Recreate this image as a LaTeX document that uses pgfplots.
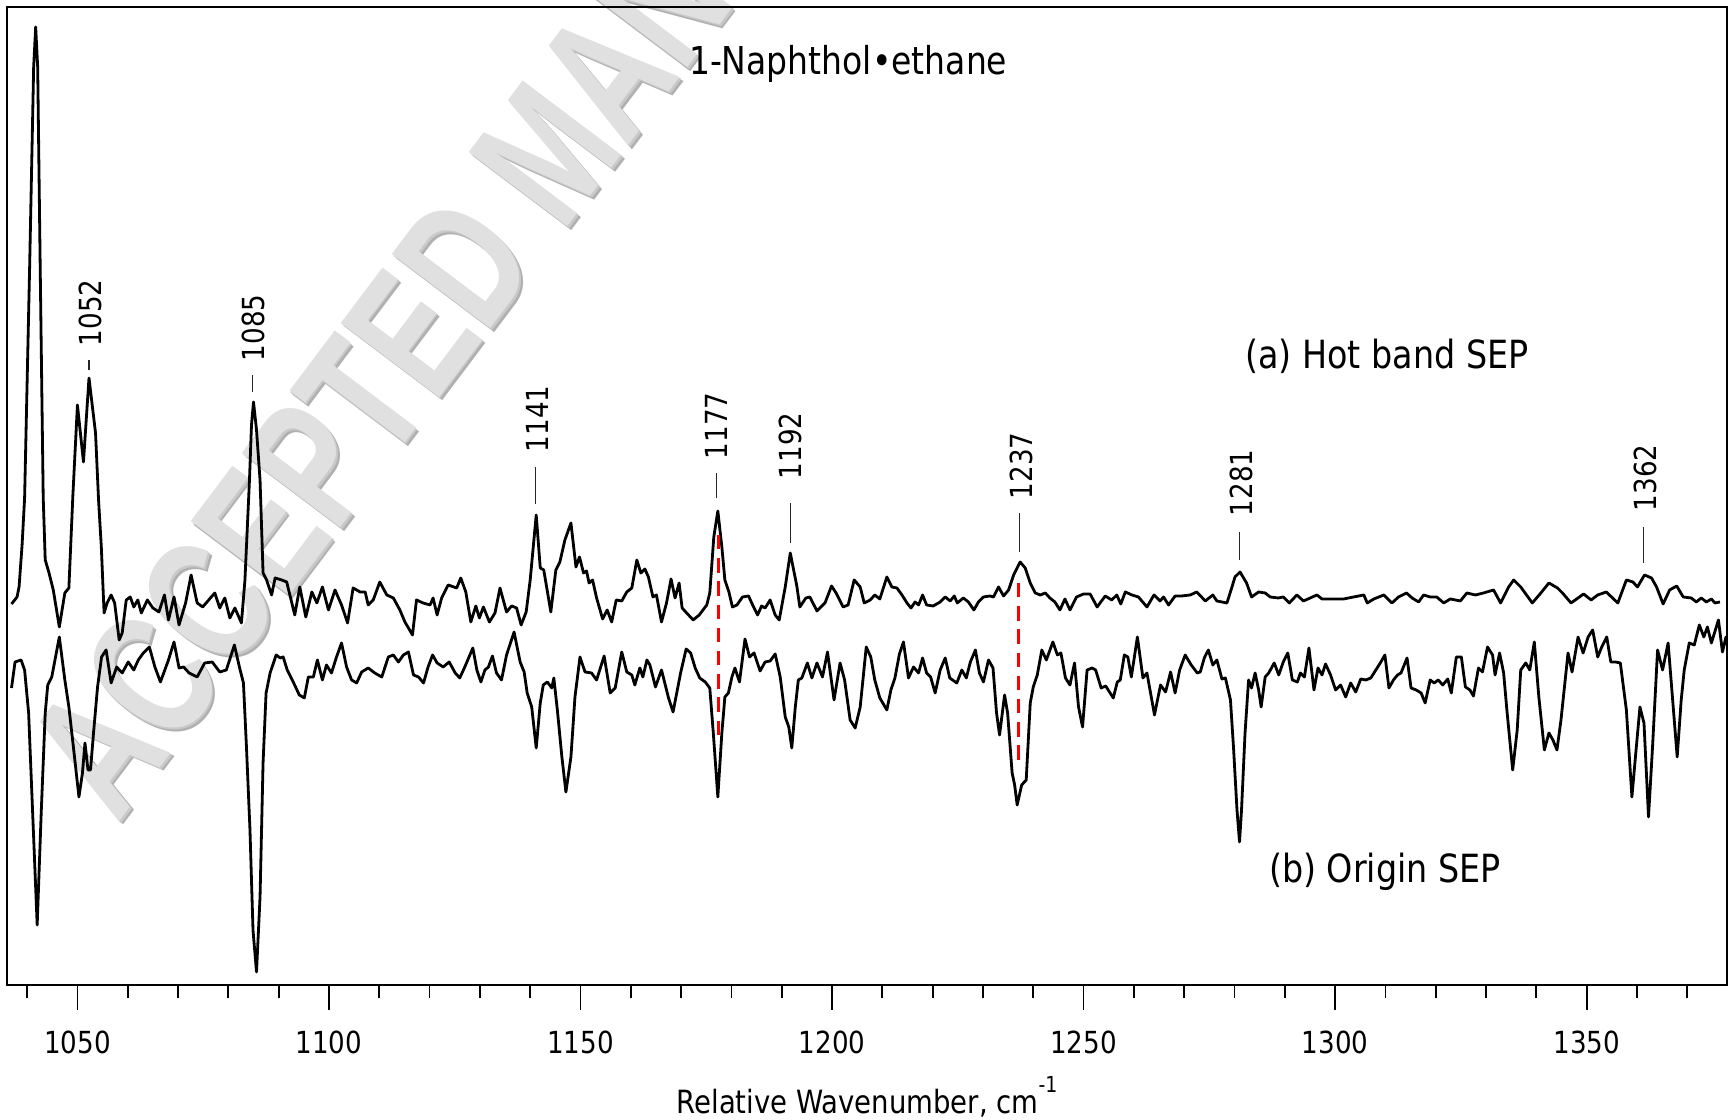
\documentclass[border=0pt]{standalone}
\usepackage{fontspec}
\setmainfont{DejaVu Sans}[FakeStretch=0.86]
\newfontfamily\wmfont{Liberation Sans}
\usepackage{pgfplots}
\pgfplotsset{compat=1.18}

\begin{document}
\begin{tikzpicture}
\useasboundingbox (-1.75pt,-33.75pt) rectangle (430.5pt,246.25pt);
% watermark (behind the plot)
\begin{scope}[shift={(27.5pt,40pt)}]
\node[rotate=53, yscale=1.4, anchor=base west, inner sep=0pt, text=gray!62, font=\wmfont\bfseries\fontsize{32}{36}\selectfont] at (0.9pt,-0.9pt) {ACCEPTED MANUSCRIPT};
\node[rotate=53, yscale=1.4, anchor=base west, inner sep=0pt, text=gray!42, font=\wmfont\bfseries\fontsize{32}{36}\selectfont] at (0.45pt,-0.45pt) {ACCEPTED MANUSCRIPT};
\node[rotate=53, yscale=1.4, anchor=base west, inner sep=0pt, text=gray!24, font=\wmfont\bfseries\fontsize{32}{36}\selectfont] at (0,0) {ACCEPTED MANUSCRIPT};
\end{scope}
\begin{axis}[
  at={(0,0)}, anchor=south west,
  scale only axis, width=430pt, height=244.5pt,
  xmin=1036, xmax=1377.9, ymin=0, ymax=978,
  axis line style={line width=0.6pt},
  ytick=\empty,
  xtick={1050,1100,1150,1200,1250,1300,1350},
  xticklabels={1050,1100,1150,1200,1250,1300,1350},
  minor xtick={1040,1060,1070,1080,1090,1110,1120,1130,1140,1160,1170,1180,1190,1210,1220,1230,1240,1260,1270,1280,1290,1310,1320,1330,1340,1360,1370},
  xtick pos=bottom, tick align=outside,
  major tick length=6.25pt, minor tick length=3.3pt,
  every tick/.style={black, line width=0.45pt},
  xticklabel style={font=\fontsize{7.6}{9}\selectfont, anchor=center, yshift=-8pt},
  xlabel={Relative Wavenumber, cm\raisebox{1.2ex}{\fontsize{5.5}{6}\selectfont -1}},
  xlabel style={font=\fontsize{8}{10}\selectfont, at={(axis description cs:0.5,0)}, anchor=center, yshift=-28pt},
]
% (a) Hot band SEP
\addplot[black, line width=0.7pt, line join=round] coordinates {
(1036.9,381) (1038.0,388) (1038.4,398) (1039.0,440) (1039.5,487) (1040.5,718) (1041.3,918) (1041.7,958) (1042.1,918) (1042.6,718) (1043.2,487) (1043.6,425) (1044.3,413) (1045.2,395) (1046.4,358) (1047.5,392) (1048.3,397) (1049.1,490) (1050.0,580) (1051.2,523) (1052.3,607) (1053.6,552) (1054.2,485) (1054.75,438) (1055.3,372) (1055.9,382) (1056.7,390) (1057.4,382) (1058.3,345) (1058.9,352) (1059.7,385) (1060.5,388) (1061.2,378) (1062.0,385) (1062.7,372) (1063.9,385) (1065.0,377) (1066.2,373) (1067.3,390) (1068.1,365) (1069.2,388) (1070.2,360) (1071.5,382) (1072.6,410) (1073.8,382) (1074.9,378) (1076.1,385) (1077.3,392) (1078.3,377) (1079.3,387) (1080.3,367) (1081.3,377) (1082.6,362) (1083.3,405) (1084.2,505) (1084.6,560) (1085.0,583) (1085.6,555) (1086.3,505) (1086.9,412) (1087.6,405) (1088.6,390) (1089.3,407) (1090.6,405) (1091.6,403) (1093.2,370) (1094.2,398) (1095.4,368) (1096.6,393) (1097.6,382) (1098.7,398) (1099.9,375) (1101.2,395) (1102.5,380) (1103.7,362) (1104.8,397) (1106.2,393) (1107.2,393) (1107.8,380) (1108.8,385) (1110.1,403) (1111.5,390) (1112.8,387) (1114.1,375) (1115.1,363) (1115.8,357) (1116.6,350) (1117.4,385) (1118.7,382) (1120.1,380) (1120.7,387) (1121.5,370) (1122.4,387) (1123.7,400) (1125.4,397) (1126.2,407) (1127.2,393) (1128.2,363) (1129.2,379) (1129.9,367) (1130.7,378) (1131.9,363) (1133.0,372) (1134.0,397) (1135.3,373) (1136.3,379) (1137.3,377) (1138.2,360) (1139.2,373) (1140.0,405) (1141.2,470) (1142.0,417) (1142.7,415) (1144.1,373) (1145.1,415) (1145.9,423) (1146.9,445) (1148.1,462) (1149.1,418) (1149.8,428) (1150.6,412) (1151.2,414) (1151.7,402) (1152.4,405) (1153.2,387) (1154.4,366) (1155.3,375) (1156.2,363) (1157.1,385) (1158.2,384) (1159.2,393) (1160.2,397) (1161.2,425) (1162.0,412) (1162.8,416) (1163.5,408) (1164.4,388) (1165.1,390) (1166.1,363) (1167.1,382) (1168.0,406) (1168.8,387) (1169.6,402) (1170.2,377) (1171.1,372) (1172.4,365) (1173.6,370) (1175.1,380) (1175.7,392) (1176.5,448) (1177.3,474) (1178.1,438) (1178.7,405) (1179.5,393) (1180.2,378) (1181.1,380) (1182.2,388) (1183.4,389) (1184.4,378) (1185.2,370) (1186.0,379) (1186.7,377) (1187.7,385) (1188.7,370) (1189.5,365) (1190.7,398) (1191.7,432) (1193.0,399) (1193.6,378) (1194.8,387) (1195.6,388) (1197.0,374) (1198.6,382) (1199.9,399) (1200.8,392) (1202.2,378) (1203.2,380) (1204.4,405) (1205.6,398) (1206.4,382) (1207.6,385) (1208.5,390) (1209.5,386) (1210.9,408) (1211.9,398) (1212.9,397) (1213.9,390) (1214.9,382) (1215.7,377) (1216.5,383) (1217.2,380) (1218.0,390) (1218.8,380) (1220.1,379) (1221.5,383) (1222.5,388) (1223.5,384) (1224.3,389) (1224.9,382) (1226.1,387) (1227.1,383) (1228.2,375) (1229.1,383) (1230.1,388) (1231.4,389) (1232.1,388) (1233.1,398) (1234.1,389) (1235.1,395) (1236.1,410) (1237.4,423) (1238.4,417) (1239.4,402) (1240.4,392) (1241.4,390) (1242.4,392) (1243.3,387) (1244.3,383) (1245.3,375) (1246.3,386) (1247.3,375) (1248.6,388) (1250.0,391) (1251.3,391) (1252.7,378) (1254.3,389) (1255.6,385) (1256.6,390) (1257.4,381) (1258.3,393) (1259.6,390) (1260.9,388) (1262.6,378) (1264.0,390) (1265.2,384) (1265.9,388) (1266.9,380) (1268.2,389) (1269.5,389) (1271.2,390) (1272.5,393) (1274.2,384) (1275.7,390) (1276.5,384) (1278.5,382) (1279.5,398) (1280.1,408) (1281.1,413) (1282.4,402) (1283.4,388) (1284.8,393) (1286.1,392) (1287.1,388) (1288.7,387) (1289.7,388) (1290.9,382) (1292.4,390) (1293.7,384) (1296.4,390) (1297.4,386) (1299.7,386) (1301.7,386) (1303.7,388) (1305.7,390) (1306.4,382) (1307.7,386) (1309.7,390) (1311.3,382) (1312.6,388) (1314.2,392) (1315.3,387) (1316.6,383) (1317.6,390) (1318.9,388) (1320.2,388) (1321.6,382) (1322.9,386) (1324.9,384) (1326.2,392) (1327.9,390) (1329.5,392) (1331.5,395) (1332.9,382) (1334.5,398) (1335.5,405) (1336.9,398) (1339.2,382) (1340.9,392) (1342.5,402) (1344.2,397) (1345.2,392) (1346.9,382) (1349.4,391) (1350.9,385) (1352.2,390) (1353.9,393) (1356.2,382) (1357.9,405) (1359.2,403) (1360.1,398) (1361.5,410) (1362.9,407) (1363.9,398) (1365.2,381) (1366.5,395) (1367.9,399) (1369.2,388) (1370.8,387) (1371.8,383) (1372.8,387) (1373.8,383) (1374.8,386) (1375.5,382) (1376.5,383)
};
% (b) Origin SEP
\addplot[black, line width=0.7pt, line join=round] coordinates {
(1036.9,297) (1037.6,323) (1038.8,325) (1039.5,315) (1040.3,272) (1041.1,172) (1042.0,60) (1042.8,172) (1043.6,272) (1044.1,300) (1044.9,308) (1046.4,348) (1047.5,305) (1048.3,278) (1049.2,238) (1050.3,188) (1051.0,212) (1051.5,242) (1052.1,215) (1052.6,215) (1053.2,252) (1054.0,298) (1054.8,328) (1055.7,335) (1056.7,302) (1057.8,318) (1058.9,312) (1060.1,323) (1061.2,315) (1062.1,325) (1063.1,332) (1064.3,338) (1065.4,318) (1066.5,303) (1068.1,325) (1069.2,343) (1070.2,317) (1071.1,318) (1072.2,312) (1073.8,308) (1075.3,322) (1076.8,323) (1078.3,313) (1079.6,315) (1081.2,340) (1082.2,318) (1083.0,302) (1083.6,238) (1084.3,155) (1084.9,55) (1085.6,13) (1086.3,88) (1086.9,222) (1087.5,292) (1088.3,312) (1089.5,330) (1090.3,327) (1090.9,328) (1091.7,315) (1092.9,303) (1094.1,290) (1095.1,287) (1095.9,308) (1096.9,308) (1097.7,325) (1098.7,305) (1099.5,320) (1100.5,312) (1101.5,328) (1102.5,342) (1103.5,318) (1104.5,305) (1105.5,302) (1106.5,313) (1107.8,317) (1109.1,312) (1110.5,308) (1111.8,328) (1112.8,330) (1113.8,323) (1114.8,330) (1115.8,333) (1116.8,310) (1117.8,308) (1118.8,302) (1119.7,318) (1120.6,330) (1121.5,322) (1122.7,318) (1123.9,323) (1125.1,312) (1126.0,307) (1127.0,318) (1128.6,337) (1129.4,315) (1130.2,303) (1131.0,315) (1131.7,318) (1132.5,329) (1133.3,312) (1134.3,305) (1135.3,330) (1136.8,353) (1138.0,323) (1138.8,313) (1139.4,292) (1140.3,278) (1141.2,237) (1142.0,282) (1142.6,300) (1143.4,303) (1144.3,297) (1144.7,307) (1145.4,275) (1146.3,228) (1147.1,193) (1148.1,228) (1148.9,288) (1149.9,328) (1150.9,313) (1152.2,312) (1153.2,305) (1154.7,329) (1155.9,292) (1156.9,297) (1158.2,333) (1159.2,313) (1160.2,310) (1160.8,300) (1161.8,317) (1162.4,308) (1163.2,325) (1163.8,320) (1164.9,298) (1166.1,315) (1167.5,287) (1168.4,273) (1169.9,312) (1171.0,336) (1171.9,332) (1172.8,317) (1173.7,307) (1174.8,303) (1175.7,297) (1176.4,252) (1177.3,188) (1178.1,252) (1178.7,288) (1179.4,292) (1180.1,308) (1180.7,317) (1181.6,303) (1182.7,346) (1183.6,328) (1184.5,332) (1185.7,314) (1186.7,323) (1187.7,324) (1188.7,331) (1189.7,308) (1190.7,268) (1191.4,258) (1192.0,237) (1192.7,278) (1193.3,305) (1194.0,307) (1195.1,322) (1196.0,307) (1197.0,322) (1198.1,308) (1199.1,333) (1200.4,285) (1201.6,322) (1202.5,305) (1203.6,265) (1204.6,257) (1205.6,278) (1206.8,338) (1207.7,328) (1208.5,305) (1209.5,287) (1210.9,275) (1211.7,295) (1212.5,307) (1213.4,331) (1214.2,343) (1215.2,307) (1216.2,318) (1217.2,312) (1218.0,327) (1218.8,312) (1219.6,308) (1220.5,292) (1221.5,315) (1222.5,327) (1223.4,307) (1224.8,302) (1225.8,315) (1226.7,307) (1227.5,323) (1228.5,335) (1229.3,312) (1230.1,303) (1231.1,325) (1232.0,317) (1232.7,272) (1233.3,250) (1234.3,290) (1234.9,272) (1235.8,212) (1236.3,200) (1236.8,180) (1237.7,200) (1238.6,205) (1239.4,282) (1240.0,298) (1240.8,310) (1241.7,335) (1242.6,325) (1243.9,343) (1244.8,330) (1245.5,332) (1246.4,307) (1247.3,300) (1248.2,322) (1249.0,278) (1249.8,258) (1250.7,315) (1251.7,317) (1252.4,315) (1253.5,297) (1254.4,299) (1255.9,287) (1256.7,303) (1257.3,305) (1258.1,330) (1258.8,328) (1259.5,308) (1260.7,348) (1261.8,307) (1262.6,312) (1264.1,270) (1265.3,300) (1266.3,293) (1267.3,313) (1268.2,292) (1269.1,315) (1270.2,330) (1271.4,320) (1272.6,312) (1273.2,313) (1274.0,327) (1274.8,335) (1275.7,320) (1276.5,325) (1277.5,306) (1278.2,307) (1279.2,285) (1279.8,238) (1280.5,175) (1281.0,143) (1281.4,175) (1282.1,252) (1282.8,305) (1283.4,297) (1284.1,312) (1284.8,295) (1285.3,278) (1286.1,308) (1286.8,312) (1287.9,322) (1288.8,310) (1289.7,323) (1290.6,332) (1291.5,305) (1292.5,303) (1293.1,312) (1293.9,308) (1294.8,337) (1295.8,295) (1296.6,317) (1297.4,310) (1298.1,321) (1299.1,310) (1300.1,295) (1301.1,300) (1302.1,288) (1303.1,302) (1304.1,293) (1305.1,306) (1306.1,305) (1307.1,307) (1308.1,315) (1309.1,323) (1309.9,330) (1310.7,297) (1311.6,305) (1312.4,310) (1313.1,312) (1314.3,327) (1315.1,297) (1316.1,295) (1317.1,292) (1317.9,282) (1318.9,305) (1319.7,302) (1320.5,305) (1321.4,300) (1322.4,306) (1323.1,292) (1324.1,328) (1325.1,328) (1325.9,298) (1326.8,295) (1327.5,289) (1328.5,317) (1329.3,313) (1330.3,338) (1331.3,330) (1331.8,310) (1332.7,332) (1333.5,312) (1334.2,272) (1335.3,215) (1336.2,255) (1336.9,315) (1337.9,322) (1338.7,315) (1339.6,343) (1340.5,288) (1341.6,235) (1342.5,252) (1343.3,245) (1344.1,235) (1344.9,265) (1346.3,332) (1347.1,313) (1348.3,348) (1349.3,332) (1350.3,348) (1351.2,355) (1352.2,328) (1353.0,338) (1354.0,348) (1354.8,323) (1355.7,323) (1356.7,322) (1357.9,275) (1359.0,188) (1359.7,228) (1360.6,278) (1361.4,262) (1362.3,168) (1363.1,238) (1364.1,335) (1365.1,315) (1366.2,342) (1367.1,285) (1368.0,228) (1368.8,285) (1369.4,315) (1370.4,342) (1371.4,340) (1372.4,360) (1373.3,348) (1374.0,358) (1374.8,342) (1376.2,365) (1377.0,333) (1377.7,348) (1378.5,325)
};
% red dashed correlation lines
\addplot[red, line width=0.8pt, dash pattern=on 3.6pt off 2.2pt] coordinates {(1177.4,450) (1177.4,248)};
\addplot[red, line width=0.8pt, dash pattern=on 3.6pt off 2.2pt] coordinates {(1237.1,402) (1237.1,222)};
% peak marker lines
\addplot[black!85, line width=0.35pt] coordinates {(1052.3,615) (1052.3,625)};
\addplot[black!85, line width=0.35pt] coordinates {(1084.8,593) (1084.8,610)};
\addplot[black!85, line width=0.35pt] coordinates {(1141.1,481) (1141.1,518)};
\addplot[black!85, line width=0.35pt] coordinates {(1177.0,487) (1177.0,512)};
\addplot[black!85, line width=0.35pt] coordinates {(1191.7,442) (1191.7,482)};
\addplot[black!85, line width=0.35pt] coordinates {(1237.3,433) (1237.3,472)};
\addplot[black!85, line width=0.35pt] coordinates {(1281.0,425) (1281.0,453)};
\addplot[black!85, line width=0.35pt] coordinates {(1361.3,422) (1361.3,458)};
% peak labels
\begin{scope}[every node/.style={rotate=90, anchor=west, inner sep=0pt, font=\fontsize{7.6}{9}\selectfont}]
\node at (axis cs:1052.5,638) {1052};
\node at (axis cs:1085.0,623) {1085};
\node at (axis cs:1141.5,532) {1141};
\node at (axis cs:1177.1,525) {1177};
\node at (axis cs:1191.8,505) {1192};
\node at (axis cs:1237.6,485) {1237};
\node at (axis cs:1281.3,468) {1281};
\node at (axis cs:1361.7,473) {1362};
\end{scope}
\node[font=\fontsize{9.6}{11}\selectfont] at (axis cs:1203.2,921) {1-Naphthol•ethane};
\node[font=\fontsize{9.7}{11}\selectfont] at (axis cs:1310.3,629) {(a) Hot band SEP};
\node[font=\fontsize{9.7}{11}\selectfont] at (axis cs:1309.9,113) {(b) Origin SEP};
\end{axis}
\end{tikzpicture}
\end{document}
